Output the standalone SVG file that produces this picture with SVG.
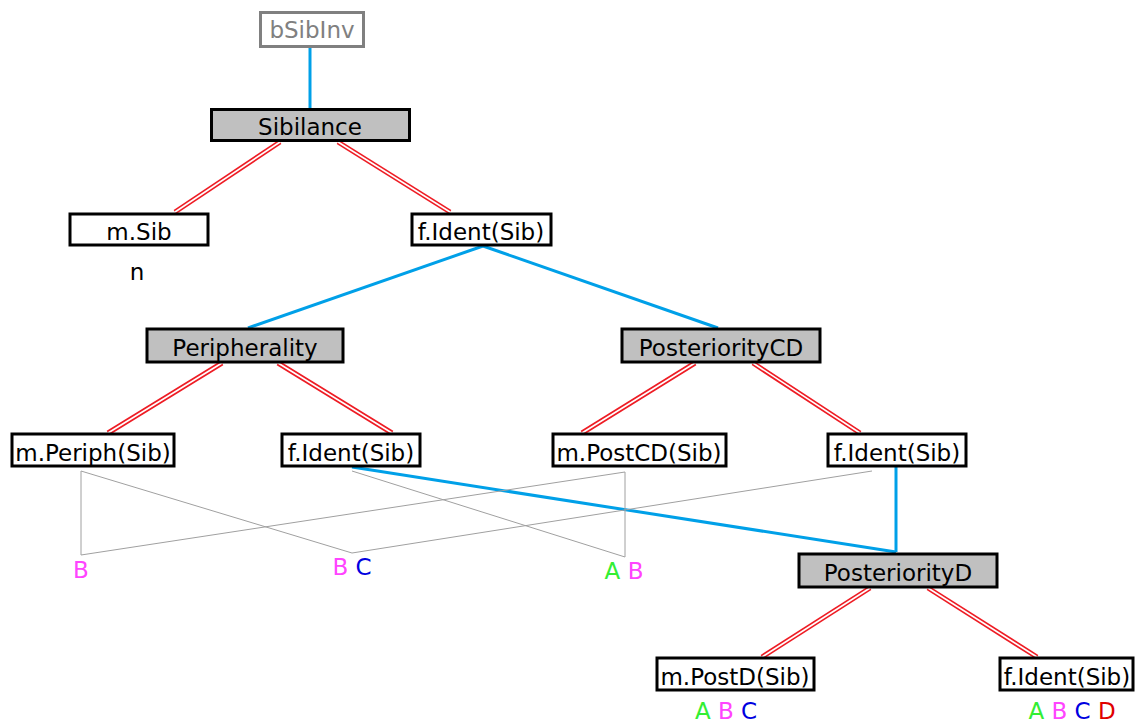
<svg xmlns="http://www.w3.org/2000/svg" width="1136" height="723" viewBox="0 0 1136 723">
<style>
text{font-family:"DejaVu Sans","Liberation Sans",sans-serif;font-size:23px;text-anchor:middle;fill:#000}
.box{fill:#fff;stroke:#000;stroke-width:3}
.grey{fill:#c0c0c0;stroke:#000;stroke-width:3}
.inv{fill:#fff;stroke:#808080;stroke-width:3}
.blue{stroke:#00a0e8;stroke-width:3;fill:none}
.redo{stroke:#ee1c24;stroke-width:5;fill:none}
.redi{stroke:#fff;stroke-width:1.6;fill:none}
.thin{stroke:#a0a0a0;stroke-width:1;fill:none}
.A{fill:#33ee33}.B{fill:#ff44ff}.C{fill:#0000e0}.D{fill:#e00000}
</style>
<g id="connectors">
<g id="blue-links">
<line class="blue" x1="310" y1="47" x2="310" y2="108"/>
<line class="blue" x1="483" y1="246" x2="248" y2="328"/>
<line class="blue" x1="483" y1="246" x2="718" y2="328"/>
<line class="blue" x1="352" y1="467" x2="896" y2="552"/>
<line class="blue" x1="896" y1="467" x2="896" y2="552"/>
</g>
<g id="red-links">
<line class="redo" x1="280" y1="142" x2="175" y2="212"/><line class="redi" x1="280" y1="142" x2="175" y2="212"/>
<line class="redo" x1="338" y1="142" x2="450" y2="212"/><line class="redi" x1="338" y1="142" x2="450" y2="212"/>
<line class="redo" x1="222" y1="363" x2="108" y2="433"/><line class="redi" x1="222" y1="363" x2="108" y2="433"/>
<line class="redo" x1="278" y1="363" x2="392" y2="433"/><line class="redi" x1="278" y1="363" x2="392" y2="433"/>
<line class="redo" x1="695" y1="363" x2="582" y2="433"/><line class="redi" x1="695" y1="363" x2="582" y2="433"/>
<line class="redo" x1="753" y1="363" x2="860" y2="433"/><line class="redi" x1="753" y1="363" x2="860" y2="433"/>
<line class="redo" x1="870" y1="588" x2="762" y2="657"/><line class="redi" x1="870" y1="588" x2="762" y2="657"/>
<line class="redo" x1="928" y1="588" x2="1037" y2="657"/><line class="redi" x1="928" y1="588" x2="1037" y2="657"/>
</g>
<g id="grey-links">
<polyline class="thin" points="81,555 81,471 352,553 872,471"/>
<polyline class="thin" points="352,471 625,557 625,472 81,555"/>
</g>
</g>
<g id="bSibInv"><rect class="inv" x="260.5" y="12.5" width="103" height="34"/><text x="312" y="38" style="fill:#808080">bSibInv</text></g>
<g id="Sibilance"><rect class="grey" x="211.5" y="109.5" width="198" height="31"/><text x="310" y="135">Sibilance</text></g>
<g id="mSib"><rect class="box" x="70" y="214" width="138" height="31"/><text x="139" y="240">m.Sib</text><text x="137" y="280">n</text></g>
<g id="fIdent1"><rect class="box" x="412" y="214" width="139" height="31"/><text x="481" y="240">f.Ident(Sib)</text></g>
<g id="Peripherality"><rect class="grey" x="147" y="329" width="196" height="33"/><text x="245" y="356">Peripherality</text></g>
<g id="PosteriorityCD"><rect class="grey" x="622" y="329" width="198" height="33"/><text x="721" y="356">PosteriorityCD</text></g>
<g id="mPeriph"><rect class="box" x="12" y="434" width="162" height="32"/><text x="93" y="461">m.Periph(Sib)</text><text x="81" y="578" class="B">B</text></g>
<g id="fIdent2"><rect class="box" x="282" y="434" width="138" height="32"/><text x="351" y="461">f.Ident(Sib)</text><text x="352" y="575"><tspan class="B">B</tspan> <tspan class="C">C</tspan></text></g>
<g id="mPostCD"><rect class="box" x="553" y="434" width="173" height="32"/><text x="639" y="461">m.PostCD(Sib)</text><text x="624" y="579"><tspan class="A">A</tspan> <tspan class="B">B</tspan></text></g>
<g id="fIdent3"><rect class="box" x="828" y="434" width="138" height="32"/><text x="897" y="461">f.Ident(Sib)</text></g>
<g id="PosteriorityD"><rect class="grey" x="799" y="554" width="198" height="33"/><text x="898" y="581">PosteriorityD</text></g>
<g id="mPostD"><rect class="box" x="657" y="658" width="157" height="32"/><text x="735" y="685">m.PostD(Sib)</text><text x="726" y="719"><tspan class="A">A</tspan> <tspan class="B">B</tspan> <tspan class="C">C</tspan></text></g>
<g id="fIdent4"><rect class="box" x="1000" y="658" width="133" height="32"/><text x="1067" y="685">f.Ident(Sib)</text><text x="1072" y="719"><tspan class="A">A</tspan> <tspan class="B">B</tspan> <tspan class="C">C</tspan> <tspan class="D">D</tspan></text></g>
</svg>
